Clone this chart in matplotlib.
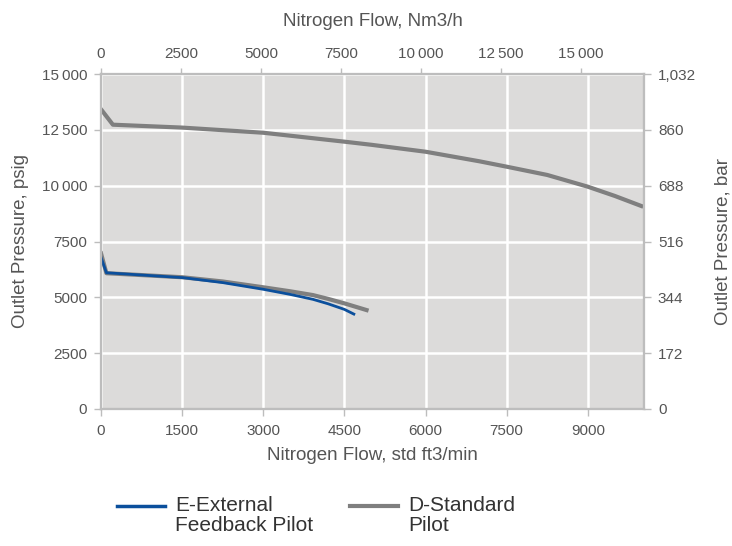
import numpy as np
import matplotlib
matplotlib.use("Agg")
import matplotlib.pyplot as plt
from matplotlib.lines import Line2D

plt.rcParams['font.family'] = ['Liberation Sans', 'DejaVu Sans']

# Data (flow in std ft3/min, pressure in psig)
std_hi_flow = [0, 220, 1500, 3000, 4500, 5000, 6000, 7000, 7500, 8250, 9000, 9500, 9990]
std_hi_psig = [13420, 12730, 12600, 12370, 11970, 11830, 11520, 11090, 10850, 10480, 9955, 9540, 9090]

std_lo_flow = [0, 100, 1500, 2250, 3000, 3500, 3920, 4200, 4500, 4910]
std_lo_psig = [6970, 6080, 5900, 5710, 5450, 5270, 5100, 4930, 4730, 4430]

ext_flow = [0, 100, 1520, 2250, 3000, 3500, 3920, 4200, 4500, 4675]
ext_psig = [6790, 6100, 5880, 5660, 5360, 5130, 4910, 4710, 4460, 4250]

bottom_ticks = [0, 1500, 3000, 4500, 6000, 7500, 9000]
bottom_labels = ["0", "1500", "3000", "4500", "6000", "7500", "9000"]
top_ticks = [0, 2500, 5000, 7500, 10000, 12500, 15000]
top_labels = ["0", "2500", "5000", "7500", "10\u2009000", "12\u2009500", "15\u2009000"]
left_ticks = [0, 2500, 5000, 7500, 10000, 12500, 15000]
left_labels = ["0", "2500", "5000", "7500", "10\u2009000", "12\u2009500", "15\u2009000"]
right_ticks = [0, 172, 344, 516, 688, 860, 1032]
right_labels = ["0", "172", "344", "516", "688", "860", "1,032"]

txt = "#555555"
spine = "#bdbdbd"
grey_line = "#7f7f7f"
blue_line = "#0b4f9c"

W, H = 732, 546
fig = plt.figure(figsize=(W / 100, H / 100), dpi=100)
ax = fig.add_axes([101 / W, 1 - 409 / H, 543 / W, 335 / H])
ax.set_facecolor("#dcdbda")

ax.plot(std_hi_flow, std_hi_psig, color=grey_line, lw=3)
ax.plot(std_lo_flow, std_lo_psig, color=grey_line, lw=3)
ax.plot(ext_flow, ext_psig, color=blue_line, lw=2)

ax.set_xlim(0, 10040)
ax.set_ylim(0, 15000)
ax.set_xticks(bottom_ticks)
ax.set_xticklabels(bottom_labels)
ax.set_yticks(left_ticks)
ax.set_yticklabels(left_labels)
ax.grid(True, color="white", lw=1.8)
ax.set_axisbelow(True)

for s in ax.spines.values():
    s.set_color(spine)
    s.set_linewidth(1.5)

ax.tick_params(colors=spine, labelcolor=txt, labelsize=11, length=5, width=1)
ax.tick_params(axis="x", pad=6)
ax.tick_params(axis="y", pad=5)
ax.set_xlabel("Nitrogen Flow, std ft3/min", color=txt, fontsize=13.5, labelpad=6)
ax.set_ylabel("Outlet Pressure, psig", color=txt, fontsize=13.5, labelpad=9)

top = ax.twiny()
top.set_xlim(0, 16980)
top.set_xticks(top_ticks)
top.set_xticklabels(top_labels)
top.tick_params(colors=spine, labelcolor=txt, labelsize=11, length=4, width=1, pad=5.5)
top.set_xlabel("Nitrogen Flow, Nm3/h", color=txt, fontsize=13.5, labelpad=15)

right = ax.twinx()
right.set_ylim(0, 1032)
right.set_yticks(right_ticks)
right.set_yticklabels(right_labels)
right.tick_params(colors=spine, labelcolor=txt, labelsize=11, length=5, width=1, pad=5)
right.set_ylabel("Outlet Pressure, bar", color=txt, fontsize=13.5, labelpad=13)

for a in (top, right):
    for s in a.spines.values():
        s.set_color(spine)
        s.set_linewidth(1.5)

# legend below the plot: handle lined up with the first text line
legend_items = [("E-External\nFeedback Pilot", blue_line, 2.5, 117),
                ("D-Standard\nPilot", grey_line, 3, 350)]
for label, col, lw, x0 in legend_items:
    fig.add_artist(Line2D([x0 / W, (x0 + 48) / W], [1 - 506 / H, 1 - 506 / H],
                          color=col, lw=lw, transform=fig.transFigure))
    fig.text((x0 + 58) / W, 1 - 496 / H, label, color="#333333", fontsize=15,
             va="top", ha="left", linespacing=1.05)

fig.savefig("out.png", dpi=100)
